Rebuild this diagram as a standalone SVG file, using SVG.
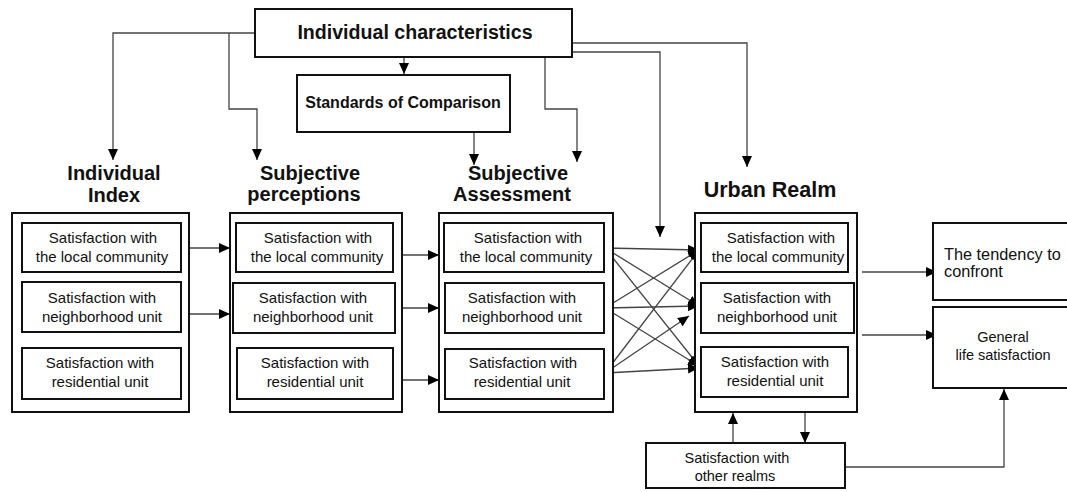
<svg xmlns="http://www.w3.org/2000/svg" width="1067" height="492" viewBox="0 0 1067 492">
<style>
.box{fill:#fff;stroke:#111;stroke-width:2}
.ln{fill:none;stroke:#444;stroke-width:1.3}
.t{font-family:"Liberation Sans",Arial,sans-serif;font-size:15px;fill:#111;text-anchor:middle}
.h{font-family:"Liberation Sans",Arial,sans-serif;font-size:20px;font-weight:bold;fill:#111;text-anchor:middle}
</style>
<defs>
<marker id="ah" markerUnits="userSpaceOnUse" markerWidth="12" markerHeight="10" refX="11" refY="5" orient="auto">
<path d="M0,0 L11,5 L0,10 Z" fill="#000"/>
</marker>
</defs>
<rect width="1067" height="492" fill="#fff"/>

<g id="connectors">
<path class="ln" d="M255,33 H113 V160" marker-end="url(#ah)"/>
<path class="ln" d="M229,33 V109 H257 V160" marker-end="url(#ah)"/>
<path class="ln" d="M404,57 V74" marker-end="url(#ah)"/>
<path class="ln" d="M474,132 V165" marker-end="url(#ah)"/>
<path class="ln" d="M545,57 V109 H577 V162" marker-end="url(#ah)"/>
<path class="ln" d="M572,43 H747 V167" marker-end="url(#ah)"/>
<path class="ln" d="M572,52 H660 V237" marker-end="url(#ah)"/>
<path class="ln" d="M185,248 H230" marker-end="url(#ah)"/>
<path class="ln" d="M185,314 H230" marker-end="url(#ah)"/>
<path class="ln" d="M403,255 H439" marker-end="url(#ah)"/>
<path class="ln" d="M403,308 H439" marker-end="url(#ah)"/>
<path class="ln" d="M403,380 H439" marker-end="url(#ah)"/>
<path class="ln" d="M605,248 L699,250" marker-end="url(#ah)"/>
<path class="ln" d="M605,248 L699,306" marker-end="url(#ah)"/>
<path class="ln" d="M605,248 L699,366" marker-end="url(#ah)"/>
<path class="ln" d="M605,308 L699,250" marker-end="url(#ah)"/>
<path class="ln" d="M605,308 L699,306" marker-end="url(#ah)"/>
<path class="ln" d="M605,308 L699,366" marker-end="url(#ah)"/>
<path class="ln" d="M605,373 L699,250" marker-end="url(#ah)"/>
<path class="ln" d="M605,373 L689,316" marker-end="url(#ah)"/>
<path class="ln" d="M605,373 L699,368" marker-end="url(#ah)"/>
<path class="ln" d="M862,272 H937" marker-end="url(#ah)"/>
<path class="ln" d="M862,335 H937" marker-end="url(#ah)"/>
<path class="ln" d="M733,443 V413" marker-end="url(#ah)"/>
<path class="ln" d="M805,412 V443" marker-end="url(#ah)"/>
<path class="ln" d="M845,467 H1004 V389" marker-end="url(#ah)"/>
</g>

<g id="individual-characteristics">
<rect class="box" x="255" y="9" width="317" height="48"/>
<text class="h" x="415" y="39" style="font-size:19.6px">Individual characteristics</text>
</g>

<g id="standards-of-comparison">
<rect class="box" x="297" y="75" width="213" height="57"/>
<text class="h" x="403" y="108" style="font-size:16px">Standards of Comparison</text>
</g>

<g id="individual-index">
<text class="h" x="114" y="180">Individual</text>
<text class="h" x="114" y="202">Index</text>
<rect class="box" x="12" y="213" width="177" height="199"/>
<rect class="box" x="22" y="223" width="159" height="49"/>
<text class="t" x="103" y="243">Satisfaction with</text>
<text class="t" x="102" y="262">the local community</text>
<rect class="box" x="22" y="282" width="159" height="50"/>
<text class="t" x="102" y="303">Satisfaction with</text>
<text class="t" x="102" y="322">neighborhood unit</text>
<rect class="box" x="22" y="348" width="159" height="51"/>
<text class="t" x="100" y="368">Satisfaction with</text>
<text class="t" x="100" y="387">residential unit</text>
</g>

<g id="subjective-perceptions">
<text class="h" x="310" y="180">Subjective</text>
<text class="h" x="304" y="201">perceptions</text>
<rect class="box" x="230" y="213" width="172" height="199"/>
<rect class="box" x="236" y="223" width="157" height="49"/>
<text class="t" x="318" y="243">Satisfaction with</text>
<text class="t" x="317" y="262">the local community</text>
<rect class="box" x="233" y="283" width="162" height="50"/>
<text class="t" x="313" y="303">Satisfaction with</text>
<text class="t" x="313" y="322">neighborhood unit</text>
<rect class="box" x="237" y="348" width="156" height="51"/>
<text class="t" x="315" y="368">Satisfaction with</text>
<text class="t" x="315" y="387">residential unit</text>
</g>

<g id="subjective-assessment">
<text class="h" x="518" y="180">Subjective</text>
<text class="h" x="512" y="201">Assessment</text>
<rect class="box" x="439" y="213" width="174" height="199"/>
<rect class="box" x="444" y="223" width="160" height="49"/>
<text class="t" x="528" y="243">Satisfaction with</text>
<text class="t" x="526" y="262">the local community</text>
<rect class="box" x="445" y="283" width="159" height="50"/>
<text class="t" x="522" y="303">Satisfaction with</text>
<text class="t" x="522" y="322">neighborhood unit</text>
<rect class="box" x="445" y="349" width="159" height="50"/>
<text class="t" x="523" y="368">Satisfaction with</text>
<text class="t" x="522" y="387">residential unit</text>
</g>

<g id="urban-realm">
<text class="h" x="770" y="197" style="font-size:21.5px">Urban Realm</text>
<rect class="box" x="695" y="213" width="162" height="199"/>
<rect class="box" x="701" y="223" width="147" height="49"/>
<text class="t" x="781" y="243">Satisfaction with</text>
<text class="t" x="778" y="262">the local community</text>
<rect class="box" x="701" y="283" width="153" height="50"/>
<text class="t" x="777" y="303">Satisfaction with</text>
<text class="t" x="777" y="322">neighborhood unit</text>
<rect class="box" x="701" y="347" width="147" height="50"/>
<text class="t" x="775" y="367">Satisfaction with</text>
<text class="t" x="775" y="386">residential unit</text>
</g>

<g id="tendency-to-confront">
<rect class="box" x="933" y="223" width="140" height="77"/>
<text class="t" x="944" y="260" style="font-size:16.3px;text-anchor:start">The tendency to</text>
<text class="t" x="944" y="277" style="font-size:16.3px;text-anchor:start">confront</text>
</g>

<g id="general-life-satisfaction">
<rect class="box" x="933" y="307" width="140" height="81"/>
<text class="t" x="1003" y="342" style="font-size:14.5px">General</text>
<text class="t" x="1003" y="360" style="font-size:14.5px">life satisfaction</text>
</g>

<g id="other-realms">
<rect class="box" x="646" y="443" width="199" height="45"/>
<text class="t" x="737" y="463" style="font-size:14.5px">Satisfaction with</text>
<text class="t" x="735" y="481" style="font-size:14.5px">other realms</text>
</g>
</svg>
